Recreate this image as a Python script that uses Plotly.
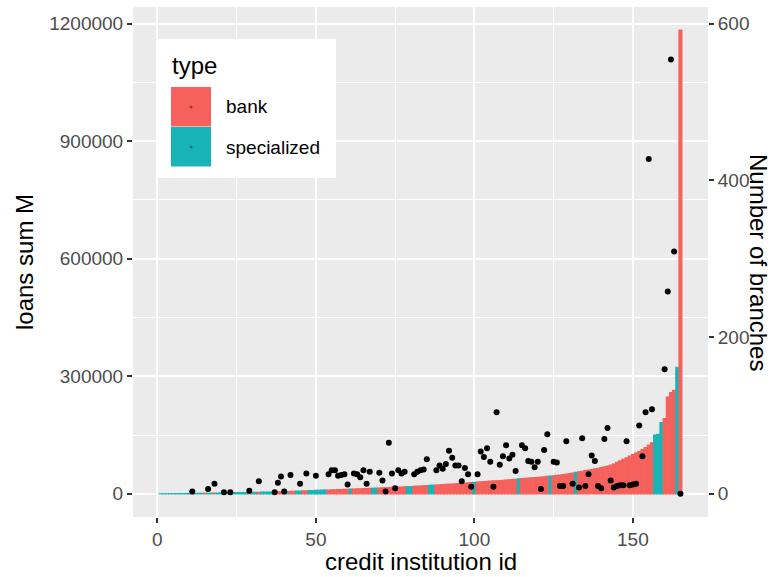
import plotly.graph_objects as go

# ---------------- data ----------------
inst_id = list(range(1, 166))
loans_sum = [
    50, 100, 150, 200, 300, 400, 500, 600, 700, 800,
    900, 1000, 1100, 1200, 1300, 1450, 1600, 1750, 1900, 2050,
    2200, 2350, 2500, 2650, 2800, 2950, 3100, 3250, 3400, 3550,
    3700, 3900, 4100, 4300, 4500, 4700, 4900, 5100, 5300, 5600,
    5900, 6200, 6500, 6800, 7100, 7400, 7700, 8000, 8300, 8600,
    8900, 9200, 9500, 9800, 10100, 10400, 10700, 11000, 11300, 11600,
    11900, 12200, 12500, 12800, 13100, 13400, 13700, 14000, 14300, 14600,
    15000, 15400, 15800, 16200, 16600, 17000, 17400, 17800, 18200, 18600,
    19000, 19500, 20000, 20500, 21000, 21500, 22000, 22500, 23000, 23500,
    24000, 24500, 25000, 25600, 26200, 26800, 27400, 28000, 28600, 29200,
    29800, 30400, 31000, 31600, 32200, 32800, 33400, 34000, 34600, 35200,
    35800, 36500, 37200, 37900, 38600, 39300, 40000, 40700, 41400, 42100,
    42800, 43600, 44400, 45200, 46000, 47000, 48000, 49000, 50000, 51500,
    53000, 54500, 56000, 57500, 59000, 60500, 62000, 63500, 65000, 67000,
    69000, 71000, 73000, 76000, 80000, 84000, 88000, 92000, 96000, 100000,
    104000, 108000, 113000, 118000, 124000, 130000, 150000, 152000, 182000, 192000,
    247000, 258000, 264000, 323000, 1183000,
]
specialized_ids = [1, 2, 3, 4, 5, 6, 7, 8, 9, 10, 12, 13, 14, 16, 17,
                   19, 20, 21, 22, 23, 24, 25, 26, 27, 28, 30, 31, 33, 34, 35,
                   36, 37, 41, 44, 45, 48, 49, 50, 51, 52, 53, 61, 68, 69, 79,
                   80, 86, 87, 100, 114, 124, 132, 157, 158, 159, 164]
inst_type = ["specialized" if i in specialized_ids else "bank" for i in inst_id]

branch_id = [11, 16, 18, 21, 23, 29, 32, 37, 38, 39, 40, 42, 45, 47, 50,
             54, 55, 56, 57, 58, 59, 60, 62, 63, 64, 65, 66, 67, 70, 71,
             72, 73, 74, 75, 76, 77, 78, 81, 82, 83, 84, 85, 88, 89, 90,
             91, 92, 93, 94, 95, 96, 97, 98, 99, 101, 102, 103, 104, 105, 106,
             107, 108, 109, 110, 111, 112, 113, 115, 116, 117, 118, 119, 120, 121, 122,
             123, 125, 126, 127, 128, 129, 131, 133, 134, 135, 136, 137, 138, 139, 140,
             141, 142, 143, 144, 145, 146, 147, 148, 149, 150, 151, 152, 153, 154, 155,
             156, 160, 161, 162, 163, 165]
branches = [3, 6, 13, 2, 2, 4, 16, 2, 14, 22, 3, 24, 13, 26, 23,
            25, 30, 30, 23, 24, 25, 12, 26, 25, 21, 30, 13, 28, 27, 17,
            3, 65, 26, 7, 30, 26, 28, 25, 28, 30, 31, 44, 30, 36, 32,
            38, 55, 46, 36, 36, 16, 33, 25, 9, 25, 54, 47, 58, 41, 9,
            104, 37, 48, 62, 45, 50, 29, 62, 58, 42, 41, 34, 41, 6, 56,
            76, 41, 40, 10, 10, 67, 13, 8, 71, 10, 25, 49, 42, 10, 7,
            70, 84, 17, 8, 10, 11, 11, 67, 11, 12, 13, 87, 48, 104, 427,
            108, 159, 258, 554, 309, 0]

x_ticks = [0, 50, 100, 150]
y_ticks = [0, 300000, 600000, 900000, 1200000]
y2_ticks = [0, 200, 400, 600]
type_names = ["bank", "specialized"]
type_colors = {"bank": "#F5615C", "specialized": "#19B4B8"}
sec_scale = 2000  # loans per branch on secondary axis

# ---------------- figure ----------------
FONT = "Liberation Sans, Arial, Helvetica, sans-serif"
W, H = 780, 577
L, R, T, B = 133, 72, 7, 60
PW, PH = W - L - R, H - T - B

fig = go.Figure()
bar_colors = [type_colors[t] for t in inst_type]
fig.add_trace(go.Bar(x=inst_id, y=loans_sum, width=0.9,
                     marker=dict(color=bar_colors, line=dict(width=1.2, color=bar_colors)),
                     showlegend=False))

fig.add_trace(go.Scatter(x=branch_id, y=branches, mode="markers", yaxis="y2",
                         marker=dict(color="black", size=6, line=dict(width=0)),
                         showlegend=False))

xmin, xmax = min(inst_id) - 0.45, max(inst_id) + 0.45
xpad = 0.05 * (xmax - xmin)
ymax = max(max(loans_sum), max(branches) * sec_scale)
ypad = 0.05 * ymax
yr = [-ypad, ymax + ypad]

tickfont = dict(family=FONT, size=19, color="#4D4D4D")
common = dict(ticks="outside", ticklen=5, tickwidth=2, tickcolor="#333333",
              tickfont=tickfont, zeroline=False, showline=False)

fig.update_layout(
    width=W, height=H, autosize=False,
    margin=dict(l=L, r=R, t=T, b=B, pad=0),
    paper_bgcolor="white", plot_bgcolor="#EBEBEB",
    barmode="overlay", showlegend=False,
    font=dict(family=FONT),
    xaxis=dict(range=[xmin - xpad, xmax + xpad], tickmode="array", tickvals=x_ticks,
               showgrid=True, gridcolor="white", gridwidth=2.2,
               minor=dict(dtick=25, tick0=0, showgrid=True, gridcolor="white",
                          gridwidth=1.1, ticks=""),
               **common),
    yaxis=dict(range=yr, tickmode="array", tickvals=y_ticks,
               ticktext=[str(v) for v in y_ticks],
               showgrid=True, gridcolor="white", gridwidth=2.2,
               minor=dict(dtick=150000, tick0=0, showgrid=True, gridcolor="white",
                          gridwidth=1.1, ticks=""),
               **common),
    yaxis2=dict(range=[yr[0] / sec_scale, yr[1] / sec_scale], overlaying="y",
                side="right", tickmode="array", tickvals=y2_ticks,
                ticktext=[str(v) for v in y2_ticks], showgrid=False, **common),
)

def px(xp):
    return (xp - L) / PW

def py(yp):
    return (H - B - yp) / PH

titlefont = dict(family=FONT, size=24, color="black")
ann = [
    dict(text="credit institution id", x=px(L + PW / 2), y=py(561), xref="paper",
         yref="paper", showarrow=False, font=titlefont, xanchor="center", yanchor="middle"),
    dict(text="loans sum M", x=px(24), y=py(T + PH / 2), xref="paper", yref="paper",
         showarrow=False, font=titlefont, textangle=-90, xanchor="center", yanchor="middle"),
    dict(text="Number of branches", x=px(759), y=py(T + PH / 2), xref="paper",
         yref="paper", showarrow=False, font=titlefont, textangle=90,
         xanchor="center", yanchor="middle"),
    dict(text="type", x=px(170), y=py(65), xref="paper", yref="paper", showarrow=False,
         font=titlefont, xanchor="left", yanchor="middle"),
]
shapes = [dict(type="rect", xref="paper", yref="paper", x0=px(158), x1=px(336),
               y0=py(178), y1=py(39), fillcolor="white", line=dict(width=0), layer="above")]
key_top = 87
for k, t in enumerate(type_names):
    y0 = key_top + k * 40
    shapes.append(dict(type="rect", xref="paper", yref="paper", x0=px(171), x1=px(211),
                       y0=py(y0 + 39.5), y1=py(y0), fillcolor=type_colors[t],
                       line=dict(width=0), layer="above"))
    shapes.append(dict(type="circle", xref="paper", yref="paper", x0=px(189.5), x1=px(192.5),
                       y0=py(y0 + 21.5), y1=py(y0 + 18.5), fillcolor="rgba(0,0,0,0.35)",
                       line=dict(width=0), layer="above"))
    ann.append(dict(text=t, x=px(224), y=py(y0 + 20), xref="paper", yref="paper",
                    showarrow=False, font=dict(family=FONT, size=19, color="black"),
                    xanchor="left", yanchor="middle"))

fig.update_layout(annotations=ann, shapes=shapes)
fig.write_html("out.html")
